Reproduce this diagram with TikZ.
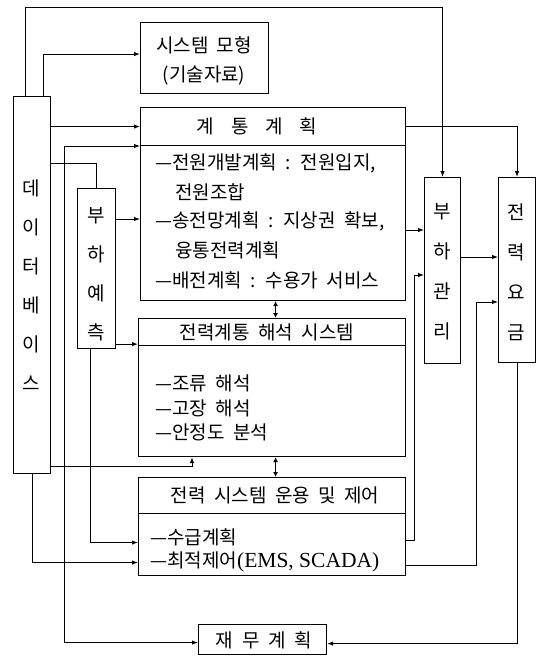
\documentclass[tikz,border=0pt]{standalone}
\usepackage{fontspec}
\newfontfamily\kr[WordSpace=2]{Noto Sans CJK KR}
\newfontfamily\lser{Liberation Serif}
\usetikzlibrary{calc,arrows.meta}
\begin{document}
\begin{tikzpicture}[x=1pt,y=-1pt,
  box/.style={draw, line width=1.1pt, inner sep=0pt, anchor=north west},
  ln/.style={line width=1pt},
  arr/.style={line width=1pt, -{Latex[length=6pt,width=4.5pt]}},
  darr/.style={line width=1pt, {Latex[length=5pt,width=5pt]}-{Latex[length=5pt,width=5pt]}},
  txt/.style={font=\kr\fontsize{19}{22}\selectfont, inner sep=0pt},
  ltxt/.style={txt, anchor=west},
  vtxt/.style={font=\kr\fontsize{19}{#1}\selectfont, inner sep=0pt, align=center},
]
\useasboundingbox (0,0) rectangle (538,656);

% boxes
\node[box, minimum width=128pt, minimum height=71pt] (sm) at (140,22) {};
\node[box, minimum width=265pt, minimum height=38pt] (gh) at (140,107) {};
\node[box, minimum width=265pt, minimum height=155pt] (gb) at (140,145) {};
\node[box, minimum width=267pt, minimum height=27pt] (hh) at (138,318) {};
\node[box, minimum width=267pt, minimum height=111pt] (hb) at (138,345) {};
\node[box, minimum width=267pt, minimum height=36pt] (uh) at (138,477) {};
\node[box, minimum width=267pt, minimum height=62pt] (ub) at (138,513) {};
\node[box, minimum width=128pt, minimum height=30pt] (jm) at (198,624) {};
\node[box, minimum width=37pt, minimum height=377pt] (db) at (13,96) {};
\node[box, minimum width=38pt, minimum height=160pt] (lf) at (77,188) {};
\node[box, minimum width=36pt, minimum height=186pt] (lm) at (424,177) {};
\node[box, minimum width=37pt, minimum height=185pt] (pr) at (498,177) {};

% texts
\node[txt, align=center, font=\kr\fontsize{19}{29}\selectfont] (smt) at (204,61) {시스템 모형\\(기술자료)};
\node[txt] (ght) at (257,126) {계\hspace{17pt}통\hspace{17pt}계\hspace{17pt}획};
\node[ltxt] (g1) at (155,163) {—전원개발계획 : 전원입지,};
\node[ltxt] (g2) at (175,192) {전원조합};
\node[ltxt] (g3) at (155,221) {—송전망계획 : 지상권 확보,};
\node[ltxt] (g4) at (175,250) {융통전력계획};
\node[ltxt] (g5) at (155,280) {—배전계획 : 수용가 서비스};
\node[txt] (hht) at (267,332) {전력계통 해석 시스템};
\node[ltxt] (h1) at (155,383) {—조류 해석};
\node[ltxt] (h2) at (155,408) {—고장 해석};
\node[ltxt] (h3) at (155,432) {—안정도 분석};
\node[txt] (uht) at (275,495) {전력 시스템 운용 및 제어};
\node[ltxt] (u1) at (150,537) {—수급계획};
\node[ltxt] (u2) at (150,562) {—최적제어{\lser\fontsize{21.5}{22}\selectfont (EMS, SCADA)}};
\node[txt] (jmt) at (264,640) {재\hspace{9pt}무\hspace{9pt}계\hspace{9pt}획};
\node[vtxt=39] (dbt) at (31.5,285) {데\\이\\터\\베\\이\\스};
\node[vtxt=39] (lft) at (96,274) {부\\하\\예\\측};
\node[vtxt=40] (lmt) at (442,272) {부\\하\\관\\리};
\node[vtxt=40] (prt) at (516.5,272) {전\\력\\요\\금};

% connectors
\draw[arr] ($(db.north west)+(12,0)$) -- ++(0,-89) -| (lm.north);
\draw[arr] ($(db.north west)+(30,0)$) |- ($(sm.west)+(0,-4)$);
\draw[arr] (db.east |- gh.west) -- (gh.west);
\draw[ln] ($(db.north east)+(0,67)$) -| (lf.north);
\coordinate (j1) at (64,466);
\draw[arr] (db.east |- j1) -| ($(hb.south west)+(54,0)$);
\draw[arr] (j1) |- ($(gb.north west)+(0,1)$);
\draw[arr] (j1) |- ($(jm.west)+(0,3)$);
\draw[arr] ($(lf.north east)+(0,31)$) coordinate (t1) -- (t1 -| gb.west);
\draw[arr] ($(lf.south east)+(0,-5)$) coordinate (t2) -- (t2 -| hh.west);
\draw[arr] ($(lf.south west)+(13,0)$) |- ($(ub.west)+(0,-2)$);
\draw[arr] ($(db.south west)+(19,0)$) |- ($(ub.west)+(0,18)$);
\draw[arr] (gh.east) -| (pr.north);
\draw[darr] ($(gb.south)+(2.5,0)$) -- ($(hh.north)+(3.5,0)$);
\draw[darr] ($(hb.south)+(3.5,0)$) -- ($(uh.north)+(3.5,0)$);
\draw[arr] ($(gb.north east)+(0,85)$) coordinate (t3) -- (t3 -| lm.west);
\draw[arr] ($(ub.north east)+(0,27)$) -- ++(8,0) |- ($(lm.north west)+(0,98)$);
\draw[arr] ($(lm.north east)+(0,80)$) coordinate (t4) -- (t4 -| pr.west);
\draw[arr] ($(ub.south east)+(0,-11)$) -- ++(70,0) |- ($(pr.north west)+(0,125)$);
\draw[arr] (pr.south) |- ($(jm.east)+(0,4)$);
\end{tikzpicture}
\end{document}
